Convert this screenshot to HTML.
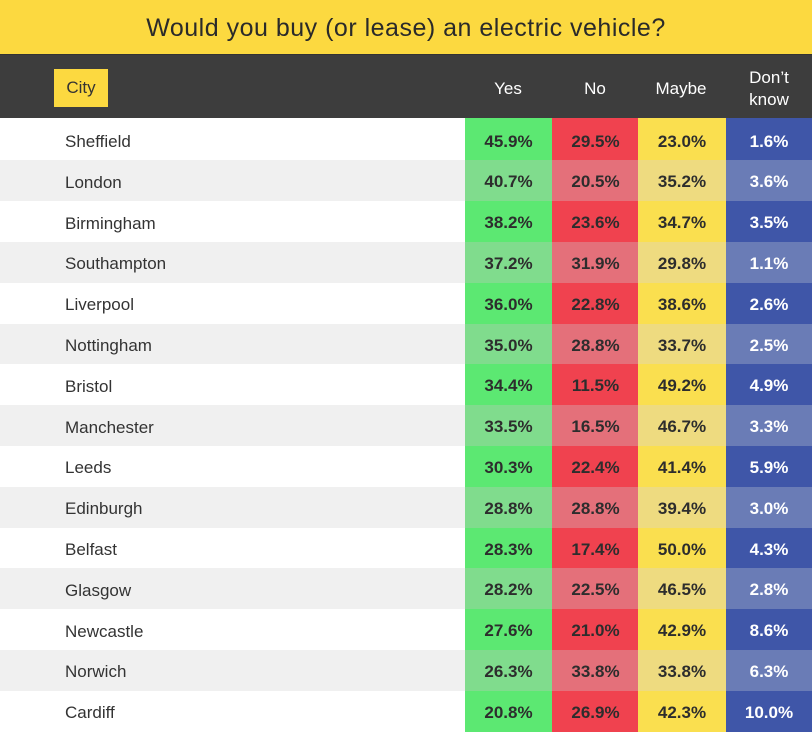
<!DOCTYPE html>
<html><head><meta charset="utf-8">
<style>
body{margin:0;width:812px;height:736px;overflow:hidden;background:#fff;font-family:"Liberation Sans",sans-serif;position:relative}
#title{position:absolute;left:0;top:0;width:812px;height:54px;background:#fcd940;border-bottom:1px solid #333;text-align:center;line-height:56px;font-size:25px;color:#2a2a2a;letter-spacing:0.5px}
#hdr{position:absolute;left:0;top:55px;width:812px;height:63px;background:#3d3d3d}
.h{position:absolute;color:#fff;font-size:17px;text-align:center;width:86px}
#city{position:absolute;left:54px;top:14px;width:54px;height:38px;background:#fcd940;color:#333;font-size:17px;line-height:38px;text-align:center}
.row{position:absolute;left:0;width:812px}
.cn{position:absolute;left:65px;font-size:17px;color:#333}
.c{position:absolute;width:87px;text-align:center;font-size:17px;font-weight:bold;color:#2d2d2d}
</style></head><body>
<div id="title">Would you buy (or lease) an electric vehicle?</div>
<div id="hdr">
<div id="city">City</div>
<div class="h" style="left:465px;top:24px">Yes</div>
<div class="h" style="left:552px;top:24px">No</div>
<div class="h" style="left:638px;top:24px">Maybe</div>
<div class="h" style="left:726px;top:12px;line-height:22px">Don’t<br>know</div>
</div>
<div id="rows"></div>
<script>
const cities=["Sheffield","London","Birmingham","Southampton","Liverpool","Nottingham","Bristol","Manchester","Leeds","Edinburgh","Belfast","Glasgow","Newcastle","Norwich","Cardiff"];
const yes=[45.9,40.7,38.2,37.2,36.0,35.0,34.4,33.5,30.3,28.8,28.3,28.2,27.6,26.3,20.8];
const no=[29.5,20.5,23.6,31.9,22.8,28.8,11.5,16.5,22.4,28.8,17.4,22.5,21.0,33.8,26.9];
const maybe=[23.0,35.2,34.7,29.8,38.6,33.7,49.2,46.7,41.4,39.4,50.0,46.5,42.9,33.8,42.3];
const dk=[1.6,3.6,3.5,1.1,2.6,2.5,4.9,3.3,5.9,3.0,4.3,2.8,8.6,6.3,10.0];
const cols=[
 {v:yes,x:465,a:"#5ce872",b:"#80dc8d",t:"#2d2d2d",n:"yes"},
 {v:no,x:552,a:"#f0424f",b:"#e4707a",t:"#2d2d2d",n:"no"},
 {v:maybe,x:638,a:"#fadf4f",b:"#eedb80",t:"#2d2d2d",n:"maybe"},
 {v:dk,x:726,a:"#3f56a8",b:"#6a7cb6",t:"#fff",n:"dont-know"}];
const R=document.getElementById('rows');
cities.forEach((c,i)=>{
 let top=119.6+40.8*i, h=40.8;
 if(i===0){top=118;h=42.4;}
 const off=i===0?1.6:0;
 const row=document.createElement('div');
 row.className='row';
 
 
 row.style.top=top+'px';row.style.height=h+'px';
 row.style.background=i%2?'#f0f0f0':'#fff';
 const cn=document.createElement('div');
 cn.className='cn';cn.textContent=c;
 
 
 cn.style.top=(off+10.4+2)+'px';
 row.appendChild(cn);
 cols.forEach(col=>{
  const d=document.createElement('div');
  d.className='c';
  
  
  d.style.left=col.x+'px';d.style.top='0';d.style.height=h+'px';
  d.style.boxSizing='border-box';d.style.paddingTop=(off+2)+'px';
  d.style.lineHeight='40.8px';
  d.style.width=(col.n==='dont-know'?86:(col.n==='maybe'?88:87))+'px';
  d.style.background=i%2?col.b:col.a;d.style.color=col.t;
  d.textContent=col.v[i].toFixed(1)+'%';
  row.appendChild(d);
 });
 R.appendChild(row);
});
</script>
</body></html>
